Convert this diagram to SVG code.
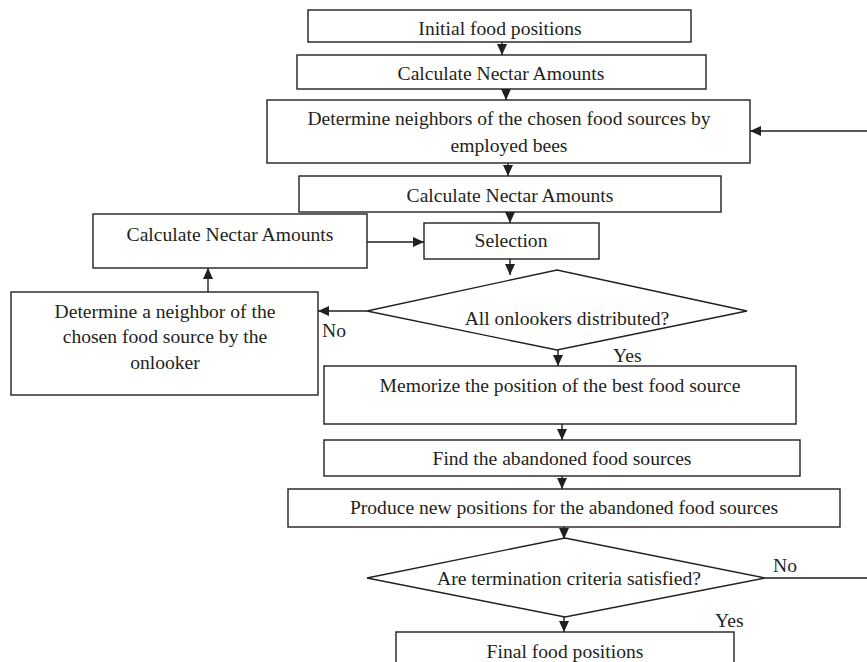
<svg xmlns="http://www.w3.org/2000/svg" width="867" height="662" viewBox="0 0 867 662">
<style>
.box{fill:#fff;stroke:#231f20;stroke-width:1.4}
.t{font-family:"Liberation Serif","Times New Roman",serif;font-size:19.6px;fill:#231f20;text-anchor:middle}
.l{font-family:"Liberation Serif","Times New Roman",serif;font-size:19.6px;fill:#231f20}
.c{fill:none;stroke:#231f20;stroke-width:1.4}
</style>
<defs>
<marker id="ah" markerUnits="userSpaceOnUse" markerWidth="12" markerHeight="10" refX="11" refY="5" orient="auto">
<path d="M0,0 L11,5 L0,10 Z" fill="#231f20"/>
</marker>
</defs>
<rect width="867" height="662" fill="#fff"/>
<g id="n1"><rect class="box" x="308" y="10" width="383" height="32"/><text class="t" x="500" y="35">Initial food positions</text></g>
<g id="n2"><rect class="box" x="297" y="55" width="409" height="34"/><text class="t" x="501" y="80">Calculate Nectar Amounts</text></g>
<g id="n3"><rect class="box" x="267" y="100" width="483" height="63"/><text class="t" x="509" y="125">Determine neighbors of the chosen food sources by</text><text class="t" x="509" y="152">employed bees</text></g>
<g id="n4"><rect class="box" x="299" y="176" width="422" height="36"/><text class="t" x="510" y="202">Calculate Nectar Amounts</text></g>
<g id="n5"><rect class="box" x="424" y="223" width="175" height="36"/><text class="t" x="511" y="247">Selection</text></g>
<g id="n6"><rect class="box" x="93" y="214" width="274" height="54"/><text class="t" x="230" y="241">Calculate Nectar Amounts</text></g>
<g id="n7"><rect class="box" x="11" y="292" width="307" height="103"/><text class="t" x="165" y="318">Determine a neighbor of the</text><text class="t" x="165" y="343">chosen food source by the</text><text class="t" x="165" y="369">onlooker</text></g>
<g id="n8"><polygon class="box" points="367,311 557,270 747,311 557,350"/><text class="t" x="567" y="325">All onlookers distributed?</text></g>
<g id="n9"><rect class="box" x="324" y="366" width="472" height="58"/><text class="t" x="560" y="392">Memorize the position of the best food source</text></g>
<g id="n10"><rect class="box" x="324" y="440" width="476" height="36"/><text class="t" x="562" y="465">Find the abandoned food sources</text></g>
<g id="n11"><rect class="box" x="288" y="489" width="552" height="38"/><text class="t" x="564" y="514">Produce new positions for the abandoned food sources</text></g>
<g id="n12"><polygon class="box" points="367,578 565,538 765,578 565,617"/><text class="t" x="569" y="585">Are termination criteria satisfied?</text></g>
<g id="n13"><rect class="box" x="396" y="632" width="338" height="40"/><text class="t" x="565" y="658">Final food positions</text></g>
<g id="connectors">
<line class="c" x1="502" y1="42" x2="502" y2="55" marker-end="url(#ah)"/>
<line class="c" x1="506" y1="89" x2="506" y2="100" marker-end="url(#ah)"/>
<line class="c" x1="508" y1="163" x2="508" y2="176" marker-end="url(#ah)"/>
<line class="c" x1="510" y1="212" x2="510" y2="223" marker-end="url(#ah)"/>
<line class="c" x1="510" y1="259" x2="510" y2="275" marker-end="url(#ah)"/>
<line class="c" x1="367" y1="242" x2="424" y2="242" marker-end="url(#ah)"/>
<line class="c" x1="208" y1="292" x2="208" y2="268" marker-end="url(#ah)"/>
<line class="c" x1="367" y1="311" x2="318" y2="311" marker-end="url(#ah)"/>
<line class="c" x1="558" y1="350" x2="558" y2="366" marker-end="url(#ah)"/>
<line class="c" x1="562" y1="424" x2="562" y2="440" marker-end="url(#ah)"/>
<line class="c" x1="562" y1="476" x2="562" y2="489" marker-end="url(#ah)"/>
<line class="c" x1="564" y1="527" x2="564" y2="539" marker-end="url(#ah)"/>
<line class="c" x1="564" y1="617" x2="564" y2="632" marker-end="url(#ah)"/>
<path class="c" d="M765,578 H872 V131 H750" marker-end="url(#ah)"/>
<text class="l" x="322" y="337">No</text>
<text class="l" x="613" y="362">Yes</text>
<text class="l" x="773" y="572">No</text>
<text class="l" x="715" y="627">Yes</text>
</g>
</svg>
